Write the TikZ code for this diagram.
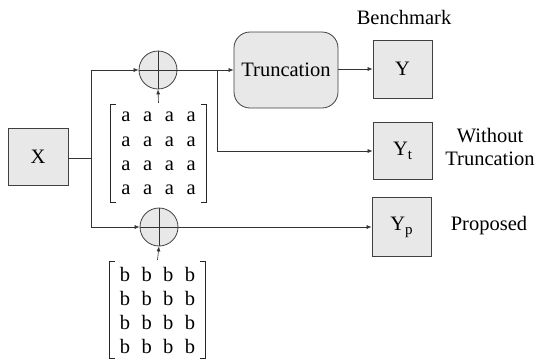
\documentclass[tikz,border=0pt]{standalone}
\usepackage{fontspec}
\setmainfont{Liberation Serif}
\usetikzlibrary{arrows.meta,matrix,calc}
\newcommand\drawbrk[1]{%
 \draw[brk] ($(#1.north west)+(1,0)$) -- ($(#1.north west)+(-4,0)$) -- ($(#1.south west)+(-4,0)$) -- ($(#1.south west)+(1,0)$);
 \draw[brk] ($(#1.north east)+(-1,0)$) -- ($(#1.north east)+(4,0)$) -- ($(#1.south east)+(4,0)$) -- ($(#1.south east)+(-1,0)$);}
\newcommand\subt[1]{\raisebox{-0.45ex}{\fontsize{15}{15}\selectfont #1}}
\begin{document}
\begin{tikzpicture}[x=1pt,y=-1pt,
 font=\fontsize{20.5}{23}\selectfont,
 box/.style={draw=black!75, fill=black!9, line width=0.8pt, minimum width=59pt, minimum height=58pt, inner sep=0pt},
 sumc/.style={circle, draw=black!75, fill=black!9, line width=0.8pt, minimum size=38pt, inner sep=0pt},
 arr/.style={-{Latex[length=5pt,width=4pt]}, line width=0.6pt, draw=black!80},
 ln/.style={line width=0.6pt, draw=black!80},
 brk/.style={line width=1pt, draw=black!85},
 mat/.style={matrix of nodes, nodes={minimum width=21.7pt, minimum height=#1, inner sep=0pt, anchor=center}, inner sep=0pt, column sep=0pt, row sep=0pt}
]
\useasboundingbox (0,0) rectangle (536,360);

\node[box, minimum width=60pt, minimum height=57pt] (X) at (38,156.5) {X};
\node[sumc] (c1) at (158,70) {};
\node[sumc] (c2) at (159,227) {};
\node[draw=black!75, fill=black!9, line width=0.8pt, rounded corners=16pt, minimum width=104pt, minimum height=76pt, inner sep=0pt] (T) at (286,70) {Truncation};
\node[box] (Y) at (402.5,69) {Y};
\node[box, minimum height=57pt] (Yt) at (402.5,151) {Y\subt{t}};
\node[box, minimum height=59pt] (Yp) at (401.5,227) {Y\subt{p}};

\matrix (ma) [mat=24.25pt] at (158.5,153.5) {
 a & a & a & a \\ a & a & a & a \\ a & a & a & a \\ a & a & a & a \\};
\matrix (mb) [mat=24pt] at (157.5,310) {
 b & b & b & b \\ b & b & b & b \\ b & b & b & b \\ b & b & b & b \\};
\drawbrk{ma}
\drawbrk{mb}

\node (bench) at (404,17) {Benchmark};
\node[align=center] (wt) at (490,146.5) {Without\\Truncation};
\node (prop) at (489,226) {Proposed};

% crosses in summation circles
\draw[ln] (c1.north) -- (c1.south) (c1.west) -- (c1.east);
\draw[ln] (c2.north) -- (c2.south) (c2.west) -- (c2.east);

% connectors
\coordinate (j1) at (91,158);
\coordinate (b1) at (217,70);
\draw[ln] (X.east |- j1) -- (j1);
\draw[arr] (j1) |- (c1.west);
\draw[arr] (j1) |- (c2.west);
\draw[arr] (c1.east) -- (T.west);
\draw[arr] (b1) |- (Yt.west);
\draw[arr] (T.east |- Y.west) -- (Y.west);
\draw[arr] (c2.east) -- (Yp.west);
\draw[arr] ($(ma.north)+(0,-2)$) -- (c1.south);
\draw[arr] ($(mb.north)+(0,-2)$) -- (c2.south);
\end{tikzpicture}
\end{document}
